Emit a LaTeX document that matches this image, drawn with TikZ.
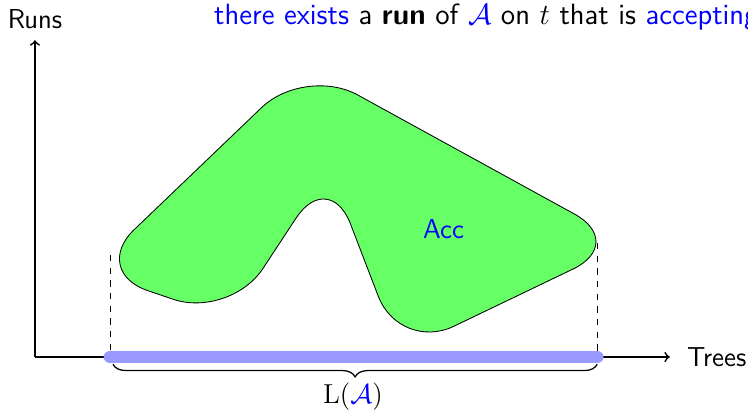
\documentclass[tikz,border=0pt,11pt]{standalone}
\usepackage{fix-cm}
\usepackage{amsmath, amssymb}
\usepackage{xcolor}
\usepackage{tikz}
\usetikzlibrary{decorations.pathreplacing}

\begin{document}
\begin{tikzpicture}[font=\fontsize{13}{15.6}\selectfont\sffamily,
  axis/.style={thick, ->},
  region/.style={draw=black, fill=green!60, rounded corners=1cm},
  proj/.style={dashed}]
  \useasboundingbox (-0.583,-0.917) rectangle (11.883,5.95);

  % Ejes
  \coordinate (O) at (0,0);
  \coordinate (ytip) at (0,5.28);
  \coordinate (xtip) at (10.58,0);

  % Proyecciones
  \coordinate (pl) at (1.25,1.7);
  \coordinate (pl0) at (1.25,0);
  \coordinate (pr) at (9.37,1.9);
  \coordinate (pr0) at (9.37,0);
  \draw[proj] (pl) -- (pl0);
  \draw[proj] (pr) -- (pr0);

  % Region Acc
  \draw[region] (0.93,1.43) -- (4.5,4.85) -- (9.87,1.9) -- (6.08,0.08)
    -- (4.9,3.15) -- (3.25,0.64) -- cycle;
  \node[blue, anchor=base] (acc) at (6.81,1.97) {Acc};

  % Ejes
  \draw[axis] (O) -- (ytip);
  \draw[axis] (O) -- (xtip);
  \node[anchor=base] (runs) at (0,5.48) {Runs};
  \node[anchor=base west, inner sep=0pt] (trees) at (10.86,-0.16) {Trees};

  % L(A)
  \draw[line width=6pt, line cap=round, blue!40] (pl0) -- (pr0);
  \coordinate (bl) at (1.3,-0.12);
  \coordinate (br) at (9.37,-0.12);
  \draw[semithick, decorate, decoration={brace, mirror, amplitude=6pt}] (bl) -- (br);
  \node[anchor=base] (lang) at (5.3,-0.77) {$\mathrm{L}(\textcolor{blue}{\mathcal{A}})$};

  % Texto superior
  \node[anchor=base west, inner sep=0pt, font=\fontsize{13.9}{16.7}\selectfont\sffamily] (claim) at (2.98,5.55)
    {\textcolor{blue}{there exists} a \textbf{run} of $\textcolor{blue}{\mathcal{A}}$ on $t$ that is \textcolor{blue}{accepting}};
\end{tikzpicture}
\end{document}
